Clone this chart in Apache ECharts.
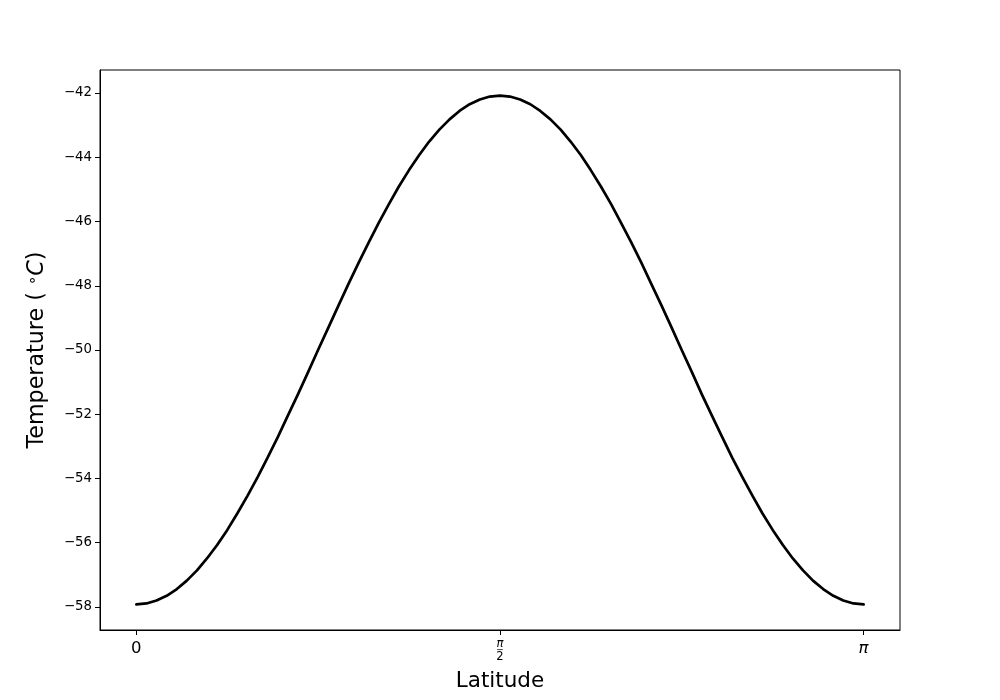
<!DOCTYPE html>
<html>
<head>
<meta charset="utf-8">
<script src="https://cdn.jsdelivr.net/npm/echarts@6/dist/echarts.min.js"></script>
<style>html,body{margin:0;padding:0;background:#fff}#c{width:1000px;height:700px}</style>
</head>
<body>
<div id="c"></div>
<script>
// Latitude in radians (0 .. pi) read at 2.5-degree steps
const latitude = [0, 0.044, 0.087, 0.131, 0.175, 0.218, 0.262, 0.305, 0.349, 0.393, 0.436, 0.480,
  0.524, 0.567, 0.611, 0.654, 0.698, 0.742, 0.785, 0.829, 0.873, 0.916, 0.960, 1.004, 1.047, 1.091,
  1.134, 1.178, 1.222, 1.265, 1.309, 1.353, 1.396, 1.440, 1.484, 1.527, 1.571, 1.614, 1.658, 1.702,
  1.745, 1.789, 1.833, 1.876, 1.920, 1.963, 2.007, 2.051, 2.094, 2.138, 2.182, 2.225, 2.269, 2.313,
  2.356, 2.400, 2.443, 2.487, 2.531, 2.574, 2.618, 2.662, 2.705, 2.749, 2.793, 2.836, 2.880, 2.923,
  2.967, 3.011, 3.054, 3.098, 3.142];
// Temperature (deg C)
const temperature = [-57.92, -57.89, -57.80, -57.65, -57.44, -57.18, -56.86, -56.49, -56.07, -55.60,
  -55.09, -54.54, -53.96, -53.35, -52.71, -52.05, -51.38, -50.69, -50.00, -49.31, -48.62, -47.95,
  -47.29, -46.65, -46.04, -45.46, -44.91, -44.40, -43.93, -43.51, -43.14, -42.82, -42.56, -42.35,
  -42.20, -42.11, -42.08, -42.11, -42.20, -42.35, -42.56, -42.82, -43.14, -43.51, -43.93, -44.40,
  -44.91, -45.46, -46.04, -46.65, -47.29, -47.95, -48.62, -49.31, -50.00, -50.69, -51.38, -52.05,
  -52.71, -53.35, -53.96, -54.54, -55.09, -55.60, -56.07, -56.49, -56.86, -57.18, -57.44, -57.65,
  -57.80, -57.89, -57.92];
const xTickValues = [0, Math.PI / 2, Math.PI];
const xTickLabels = ['0', '{num|π}\n{bar|─}\n{den|2}', '{pi|π}'];
const yTickValues = [-58, -56, -54, -52, -50, -48, -46, -44, -42];

const chart = echarts.init(document.getElementById('c'), null, {renderer: 'canvas'});
const font = 'DejaVu Sans';
chart.setOption({
  animation: false,
  backgroundColor: '#fff',
  grid: {left: 100, right: 100, top: 70, bottom: 70, show: true, borderColor: '#000', borderWidth: 1, backgroundColor: 'transparent'},
  xAxis: {
    type: 'value',
    min: -0.157, max: 3.299,
    name: 'Latitude', nameLocation: 'middle', nameGap: 40,
    nameTextStyle: {fontFamily: font, fontSize: 21.5, color: '#000'},
    axisLine: {show: true, onZero: false, lineStyle: {color: '#000', width: 1}},
    axisTick: {show: true, length: 5, customValues: xTickValues, lineStyle: {color: '#000'}},
    splitLine: {show: false},
    axisLabel: {
      customValues: xTickValues, margin: 10, color: '#000', fontFamily: font, fontSize: 16.5,
      formatter: function (v) { const i = xTickValues.findIndex(t => Math.abs(t - v) < 1e-6); return i >= 0 ? xTickLabels[i] : ''; },
      rich: {
        num: {fontFamily: font, fontStyle: 'italic', fontSize: 11.5, lineHeight: 9, color: '#000'},
        bar: {fontFamily: font, fontSize: 9, lineHeight: 3, color: '#000'},
        den: {fontFamily: font, fontSize: 11.5, lineHeight: 11, color: '#000'},
        pi: {fontFamily: font, fontStyle: 'italic', fontSize: 16.5, color: '#000'}
      }
    }
  },
  yAxis: {
    type: 'value',
    min: -58.716, max: -41.284,
    name: '{t|Temperature ( }{s|∘}{c|C}{t|)}', nameLocation: 'middle', nameGap: 51, nameRotate: 90,
    nameTextStyle: {
      fontFamily: font, fontSize: 22.2, color: '#000',
      rich: {
        t: {fontFamily: font, fontSize: 22.2, color: '#000'},
        s: {fontFamily: font, fontSize: 15, color: '#000', verticalAlign: 'top', padding: [0, 0, 8, 0]},
        c: {fontFamily: font, fontSize: 22.2, fontStyle: 'italic', color: '#000'}
      }
    },
    axisLine: {show: true, onZero: false, lineStyle: {color: '#000', width: 1}},
    axisTick: {show: true, length: 5, customValues: yTickValues, lineStyle: {color: '#000'}},
    splitLine: {show: false},
    axisLabel: {
      customValues: yTickValues, margin: 8, color: '#000', fontFamily: font, fontSize: 13.3,
      formatter: function (v) { return String(v).replace('-', '\u2212'); }
    }
  },
  series: [{
    type: 'line',
    data: latitude.map((x, i) => [x, temperature[i]]),
    showSymbol: false, smooth: false,
    lineStyle: {color: '#000', width: 2.7, join: 'round', cap: 'round'},
    itemStyle: {color: '#000'}
  }]
});
</script>
</body>
</html>
